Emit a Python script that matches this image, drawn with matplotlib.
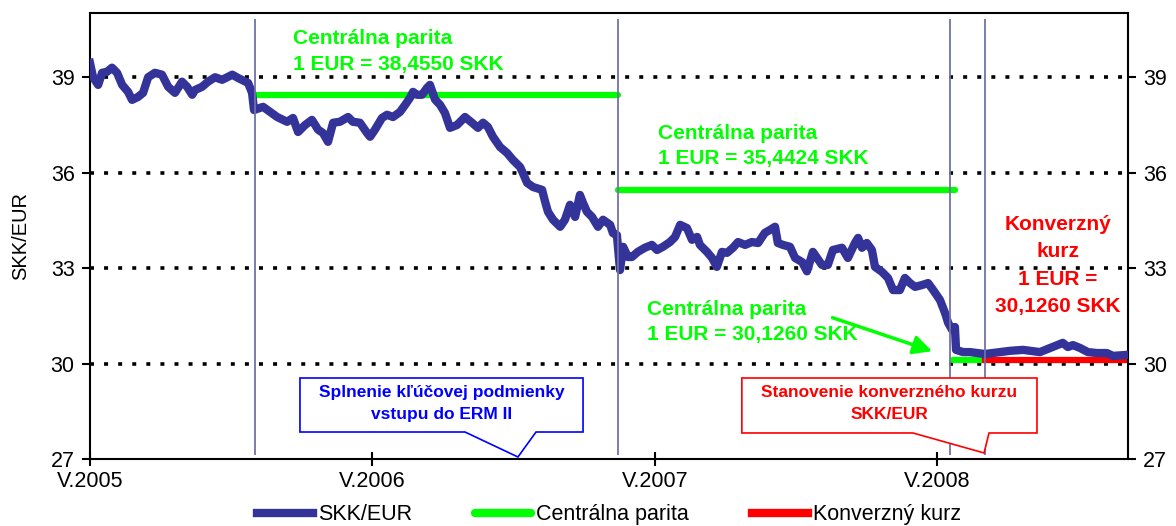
import numpy as np
import matplotlib.pyplot as plt
from matplotlib.patches import Polygon

plt.rcParams['font.family'] = ['Liberation Sans', 'DejaVu Sans']

# time as decimal year (V. = May)
t = [2005.333, 2005.344, 2005.362, 2005.376, 2005.393, 2005.411, 2005.429, 2005.447,
     2005.468, 2005.482, 2005.503, 2005.521, 2005.539, 2005.563, 2005.588, 2005.610,
     2005.634, 2005.659, 2005.677, 2005.695, 2005.705, 2005.730, 2005.751, 2005.776,
     2005.801, 2005.837, 2005.857, 2005.893, 2005.907, 2005.914, 2005.946, 2005.971,
     2005.996, 2006.031, 2006.052, 2006.070, 2006.095, 2006.119, 2006.141, 2006.158,
     2006.176, 2006.194, 2006.218, 2006.247, 2006.264, 2006.289, 2006.314, 2006.325,
     2006.342, 2006.367, 2006.385, 2006.406, 2006.431, 2006.449, 2006.466, 2006.477,
     2006.491, 2006.509, 2006.527, 2006.537, 2006.555, 2006.573, 2006.590, 2006.608,
     2006.633, 2006.661, 2006.686, 2006.707, 2006.725, 2006.742, 2006.760, 2006.785,
     2006.810, 2006.831, 2006.856, 2006.866, 2006.881, 2006.902, 2006.934, 2006.945,
     2006.955, 2006.973, 2006.998, 2007.015, 2007.033, 2007.051, 2007.068, 2007.079,
     2007.093, 2007.111, 2007.132, 2007.150, 2007.175, 2007.185, 2007.199, 2007.210,
     2007.221, 2007.238, 2007.252, 2007.273, 2007.298, 2007.323, 2007.341, 2007.362,
     2007.387, 2007.405, 2007.423, 2007.447, 2007.465, 2007.483, 2007.493, 2007.518,
     2007.536, 2007.553, 2007.571, 2007.589, 2007.610, 2007.628, 2007.653, 2007.677,
     2007.699, 2007.723, 2007.741, 2007.759, 2007.769, 2007.787, 2007.812, 2007.830,
     2007.855, 2007.872, 2007.893, 2007.925, 2007.946, 2007.964, 2007.996, 2008.017,
     2008.042, 2008.053, 2008.067, 2008.084, 2008.102, 2008.113, 2008.138, 2008.159,
     2008.177, 2008.201, 2008.219, 2008.237, 2008.255, 2008.280, 2008.301, 2008.319,
     2008.343, 2008.361, 2008.372, 2008.386, 2008.396, 2008.400, 2008.425, 2008.449,
     2008.502, 2008.556, 2008.591, 2008.637, 2008.697, 2008.778, 2008.796, 2008.814,
     2008.839, 2008.867, 2008.899, 2008.934, 2008.956, 2009.001]
skk_eur = [39.45, 39.00, 38.76, 39.14, 39.17, 39.30, 39.14, 38.76,
           38.54, 38.29, 38.38, 38.51, 39.00, 39.14, 39.08, 38.70,
           38.51, 38.86, 38.70, 38.45, 38.60, 38.70, 38.86, 39.00,
           38.92, 39.08, 38.98, 38.82, 38.51, 37.97, 38.07, 37.91,
           37.75, 37.60, 37.72, 37.28, 37.50, 37.66, 37.35, 37.25,
           36.97, 37.57, 37.60, 37.75, 37.60, 37.57, 37.25, 37.13,
           37.35, 37.72, 37.82, 37.75, 37.91, 38.13, 38.35, 38.54,
           38.45, 38.45, 38.67, 38.76, 38.30, 38.13, 37.88, 37.41,
           37.50, 37.75, 37.57, 37.41, 37.57, 37.44, 37.13, 36.81,
           36.62, 36.40, 36.18, 35.99, 35.68, 35.55, 35.46, 35.08,
           34.77, 34.52, 34.30, 34.52, 34.99, 34.61, 35.30, 35.05,
           34.77, 34.61, 34.30, 34.52, 34.36, 34.10, 34.04, 32.94,
           33.67, 33.35, 33.35, 33.51, 33.64, 33.73, 33.57, 33.67,
           33.82, 33.98, 34.36, 34.26, 33.89, 33.98, 33.73, 33.51,
           33.32, 33.04, 33.51, 33.48, 33.64, 33.82, 33.73, 33.82,
           33.79, 34.11, 34.20, 34.30, 33.79, 33.73, 33.67, 33.32,
           33.19, 32.90, 33.51, 33.10, 33.10, 33.57, 33.64, 33.32,
           33.79, 33.95, 33.64, 33.79, 33.57, 33.04, 32.88, 32.69,
           32.31, 32.31, 32.69, 32.53, 32.41, 32.47, 32.53, 32.31,
           32.00, 31.59, 31.28, 31.06, 31.15, 30.43, 30.36, 30.36,
           30.30, 30.36, 30.40, 30.43, 30.36, 30.65, 30.52, 30.58,
           30.49, 30.36, 30.33, 30.33, 30.24, 30.27]

# central parity periods
parity_start = [2005.917, 2007.203, 2008.389]
parity_end = [2007.203, 2008.396, 2008.502]
parity_value = [38.4550, 35.4424, 30.1260]
conv_start, conv_end, conv_value = 2008.502, 2009.009, 30.1260

events = [2005.917, 2007.203, 2008.378, 2008.502]

year_ticks = [2005.3333, 2006.3333, 2007.3333, 2008.3333]
year_labels = ['V.2005', 'V.2006', 'V.2007', 'V.2008']
y_ticks = [27, 30, 33, 36, 39]

blue = '#333399'
green = '#00FF00'
red = '#FF0000'

fig = plt.figure(figsize=(11.76, 5.26), dpi=100)
ax = fig.add_axes([0.0765, 0.1274, 0.8827, 0.8479])

for y in y_ticks[1:]:
    ax.axhline(y, color='black', lw=2.6, linestyle=(0, (1.1, 2.8)), zorder=1)

for i in range(len(parity_value)):
    ax.plot([parity_start[i], parity_end[i]], [parity_value[i]] * 2, color=green,
            lw=4.5, solid_capstyle='round', zorder=2,
            label='Centrálna parita' if i == 0 else None)
ax.plot([conv_start, conv_end], [conv_value] * 2, color=red, lw=4.5, zorder=2,
        label='Konverzný kurz')

ax.plot(t, skk_eur, color=blue, lw=6, solid_joinstyle='round', zorder=3,
        label='SKK/EUR')

ax.vlines(events, 27.13, 40.84, color='#7373A6', lw=1.3, zorder=4)

ax.set_xlim(2005.333, 2009.009)
ax.set_ylim(27, 41.02)
ax.set_xticks(year_ticks)
ax.set_xticklabels(year_labels)
ax.set_yticks(y_ticks)
ax.tick_params(axis='x', direction='inout', length=10, width=1.5, labelsize=15.5, pad=4)
ax.tick_params(axis='y', direction='out', length=6, width=1.5, labelsize=15.5,
               left=True, right=True, labelleft=True, labelright=True, pad=5)
for s in ax.spines.values():
    s.set_linewidth(1.5)
ax.set_ylabel('SKK/EUR', fontsize=14.5, labelpad=15)

txt = dict(fontsize=15, fontweight='bold', linespacing=1.45, va='center')
ax.text(2006.052, 39.82, 'Centrálna parita\n1 EUR = 38,4550 SKK', color=green, **txt)
ax.text(2007.344, 36.84, 'Centrálna parita\n1 EUR = 35,4424 SKK', color=green, **txt)
ax.text(2007.305, 31.31, 'Centrálna parita\n1 EUR = 30,1260 SKK', color=green, **txt)
ax.text(2008.76, 33.08, 'Konverzný\nkurz\n1 EUR =\n30,1260 SKK', color=red,
        ha='center', fontsize=15, fontweight='bold', linespacing=1.55, va='center')

ax.annotate('', xy=(2008.325, 30.36), xytext=(2007.953, 31.47),
            arrowprops=dict(arrowstyle='-|>', color=green, lw=2.5, mutation_scale=28),
            zorder=5)

# callouts (axes fraction)
def callout(x0, x1, yb, yt, pl, pr, tipx, tipy, color, text):
    poly = Polygon([(x0, yb), (x0, yt), (x1, yt), (x1, yb), (pr, yb), (tipx, tipy),
                    (pl, yb)], closed=True, transform=ax.transAxes,
                   facecolor='white', edgecolor=color, lw=1.2, zorder=6)
    ax.add_patch(poly)
    ax.text((x0 + x1) / 2, (yb + yt) / 2 + 0.004, text, transform=ax.transAxes,
            ha='center', va='center', color=color, fontsize=12.5,
            fontweight='bold', linespacing=1.55, zorder=7)

callout(0.2023, 0.475, 0.0605, 0.1816, 0.3613, 0.4297, 0.4123, 0.0045, '#0000FF',
        'Splnenie kľúčovej podmienky\nvstupu do ERM II')
callout(0.628, 0.9123, 0.0583, 0.1816, 0.7929, 0.8661, 0.8613, 0.0135, red,
        'Stanovenie konverzného kurzu\nSKK/EUR')

handles, labels = ax.get_legend_handles_labels()
order = [labels.index('SKK/EUR'), labels.index('Centrálna parita'),
         labels.index('Konverzný kurz')]
leg = fig.legend([handles[i] for i in order], [labels[i] for i in order],
                 loc='center', bbox_to_anchor=(0.518, 0.021), ncol=3, frameon=False,
                 fontsize=15.5, handlelength=2.6, handletextpad=0.25, columnspacing=2.9,
                 borderpad=0)
for h in leg.legend_handles:
    h.set_linewidth(6)

fig.savefig('out.png', dpi=100)
